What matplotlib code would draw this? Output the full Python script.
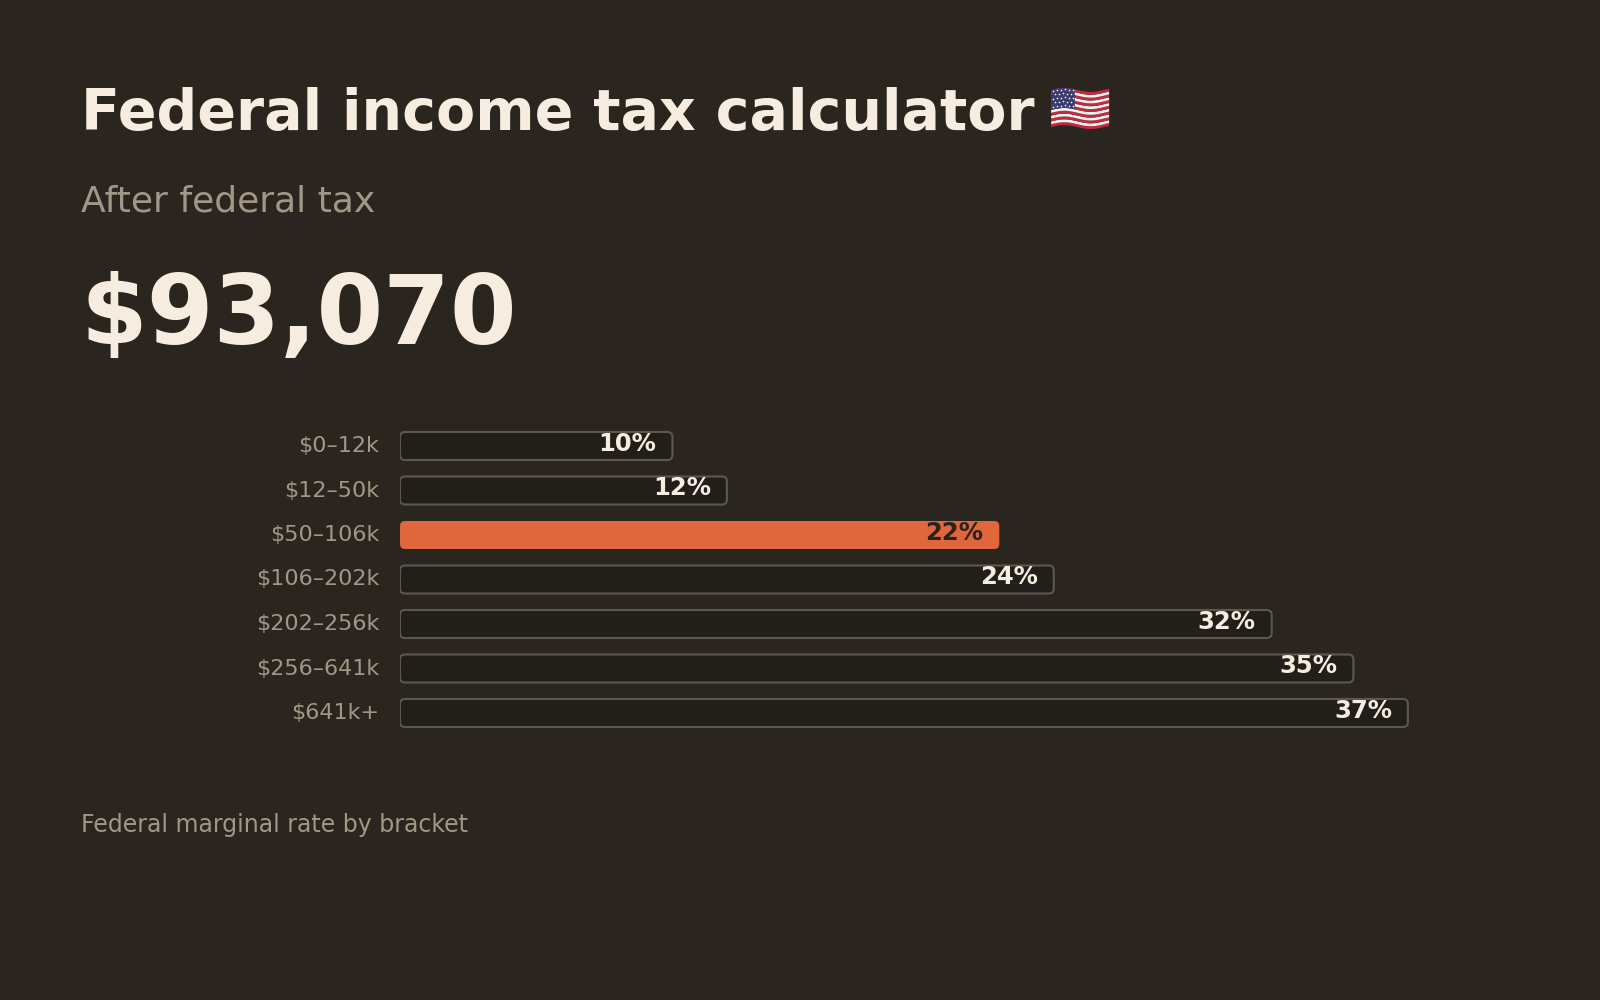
import matplotlib

matplotlib.use("Agg")

import matplotlib.pyplot as plt
import numpy as np
from matplotlib.patches import FancyBboxPatch

# ---------------------------------------------------------------------------
# data
# ---------------------------------------------------------------------------
brackets = ["$0–12k", "$12–50k", "$50–106k", "$106–202k", "$202–256k", "$256–641k", "$641k+"]
rates = [10, 12, 22, 24, 32, 35, 37]
current_bracket = 2  # bracket of the after-tax figure

title = "Federal income tax calculator"
subtitle = "After federal tax"
headline = "$93,070"
footer = "Federal marginal rate by bracket"

BG = "#2b251f"
CREAM = "#f6ede0"
MUTED = "#a29786"
BAR_FILL = "#221e1a"
BAR_EDGE = "#5d574f"
ACCENT = "#e0663c"
DARK_TXT = "#2a231d"

W, H = 1600, 1000
fig = plt.figure(figsize=(16, 10), dpi=100, facecolor=BG)


def fy(px_from_top):
    return 1 - px_from_top / H


# header texts
t = fig.text(81 / W, fy(130), title, color=CREAM, fontsize=41, fontweight="bold",
             ha="left", va="baseline")
fig.text(81 / W, fy(212), subtitle, color=MUTED, fontsize=26, ha="left", va="baseline")
fig.text(80 / W, fy(344), headline, color=CREAM, fontsize=69, fontweight="bold",
         ha="left", va="baseline")
fig.text(81 / W, fy(832), footer, color=MUTED, fontsize=17, ha="left", va="baseline")

# ---------------------------------------------------------------------------
# bracket bars
# ---------------------------------------------------------------------------
px_per_pct = 27.24
row_step = 44.5
x_max = 40
n = len(rates)
top_px = 446 - row_step / 2
ax = fig.add_axes([400 / W, fy(top_px + row_step * n), x_max * px_per_pct / W, row_step * n / H])
ax.set_facecolor("none")
ax.set_xlim(0, x_max)
ax.set_ylim(n - 0.5, -0.5)
for s in ax.spines.values():
    s.set_visible(False)
ax.set_xticks([])
ax.set_yticks(range(n))
ax.set_yticklabels(brackets, va="center")
ax.tick_params(axis="y", length=0, pad=15, labelsize=16, labelcolor=MUTED)

bar_h = 28 / row_step
aspect = px_per_pct / row_step
radius = 5 / px_per_pct
for i, (lab, r) in enumerate(zip(brackets, rates)):
    hot = i == current_bracket
    patch = FancyBboxPatch(
        (0, i - bar_h / 2), r, bar_h,
        boxstyle=f"round,pad=0,rounding_size={radius}",
        mutation_aspect=aspect,
        facecolor=ACCENT if hot else BAR_FILL,
        edgecolor="none" if hot else BAR_EDGE,
        linewidth=1.5,
    )
    ax.add_patch(patch)
    ax.annotate(f"{r}%", (r, i), xytext=(-11.5, 1.5), textcoords="offset points",
                ha="right", va="center", fontsize=17.5, fontweight="bold",
                color=DARK_TXT if hot else CREAM)

# ---------------------------------------------------------------------------
# small waving US flag after the title
# ---------------------------------------------------------------------------
renderer = fig.canvas.get_renderer()
bb = t.get_window_extent(renderer)
fx0 = bb.x1 + 16
fax = fig.add_axes([fx0 / W, fy(130), 58 / W, 44 / H])
fax.set_xlim(0, 1)
fax.set_ylim(-1.2, 14.2)
fax.axis("off")
xs = np.linspace(0, 1, 60)
wave = 0.7 * np.sin(xs * 2 * np.pi * 1.1)
for k in range(13):
    fax.fill_between(xs, k + wave, k + 1 + wave,
                     color="#c8283c" if k % 2 == 0 else "#f2f2f2", lw=0)
xc = xs[xs <= 0.42]
wc = wave[xs <= 0.42]
fax.fill_between(xc, 6 + wc, 13 + wc, color="#3c3b6e", lw=0)
for row in range(5):
    for col in range(6 - row % 2):
        sx = 0.04 + col * 0.068 + (row % 2) * 0.034
        sy = 6.7 + row * 1.4 + 0.7 * np.sin(sx * 2 * np.pi * 1.1)
        fax.plot(sx, sy, "o", ms=1.2, color="#f4f4f4", mec="none")

fig.savefig("out.png", dpi=100, facecolor=BG)
